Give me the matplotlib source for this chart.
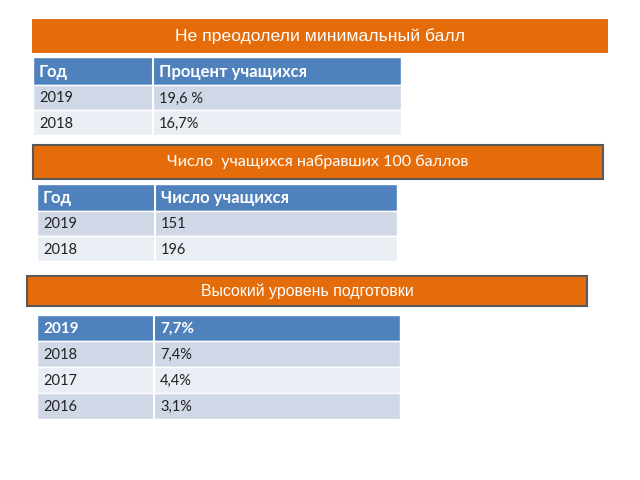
import matplotlib.pyplot as plt
from matplotlib.patches import Rectangle

plt.rcParams['font.family'] = ['Lato', 'DejaVu Sans']

# Заголовки блоков
titles = ['Не преодолели минимальный балл',
          'Число  учащихся набравших 100 баллов',
          'Высокий уровень подготовки']

# Таблица 1
t1_head = ['Год', 'Процент учащихся']
t1_years = ['2019', '2018']
t1_vals = ['19,6 %', '16,7%']

# Таблица 2
t2_head = ['Год', 'Число учащихся']
t2_years = ['2019', '2018']
t2_vals = ['151', '196']

# Таблица 3
t3_head = ['2019', '7,7%']
t3_years = ['2018', '2017', '2016']
t3_vals = ['7,4%', '4,4%', '3,1%']

orange = '#E46C0A'
blue = '#4F81BD'
band1 = '#D0D8E8'
band2 = '#E9EDF4'

fig = plt.figure(figsize=(6.4, 4.8), dpi=100)
ax = fig.add_axes([0, 0, 1, 1])
ax.set_xlim(0, 640)
ax.set_ylim(480, 0)
ax.axis('off')


def banner(x0, x1, y0, y1, text, edge, family, size):
    ax.add_patch(Rectangle((x0, y0), x1 - x0, y1 - y0, facecolor=orange,
                           edgecolor=edge, linewidth=1.5 if edge != 'none' else 0))
    ax.text((x0 + x1) / 2, (y0 + y1) / 2, text, color='white', fontsize=size,
            family=family, ha='center', va='center')


def table(x0, x1, xsplit, y0, hh, rh, head, years, vals, hsize=12):
    ax.add_patch(Rectangle((x0, y0), x1 - x0, hh, facecolor=blue,
                           edgecolor='white', linewidth=1))
    ax.plot([xsplit, xsplit], [y0, y0 + hh], color='white', lw=1.5)
    ax.text(x0 + 6, y0 + hh / 2 + 1, head[0], color='white', fontsize=hsize,
            fontweight='bold', ha='left', va='center')
    ax.text(xsplit + 6, y0 + hh / 2 + 1, head[1], color='white', fontsize=hsize,
            fontweight='bold', ha='left', va='center')
    for i, (yr, v) in enumerate(zip(years, vals)):
        top = y0 + hh + i * rh
        ax.add_patch(Rectangle((x0, top), x1 - x0, rh,
                               facecolor=band1 if i % 2 == 0 else band2,
                               edgecolor='white', linewidth=1))
        ax.plot([xsplit, xsplit], [top, top + rh], color='white', lw=1.5)
        ax.text(x0 + 6, top + rh / 2 + 1, yr, color='#222222', fontsize=10.5,
                ha='left', va='center')
        ax.text(xsplit + 6, top + rh / 2 + 1, v, color='#222222', fontsize=10.5,
                ha='left', va='center')


banner(32, 608, 19, 53, titles[0], 'none', ['Liberation Sans', 'DejaVu Sans'], 12.6)
table(33, 401, 153, 57, 28, 25, t1_head, t1_years, t1_vals)

banner(33, 603, 145, 179, titles[1], '#595959', ['Lato', 'DejaVu Sans'], 11.6)
table(37, 397, 155, 184, 27, 25, t2_head, t2_years, t2_vals)

banner(27, 587, 276, 306, titles[2], '#595959', ['Liberation Sans', 'DejaVu Sans'], 11.4)
table(37, 400, 154, 315, 26, 26, t3_head, t3_years, t3_vals, hsize=11)

fig.savefig('out.png', dpi=100)
